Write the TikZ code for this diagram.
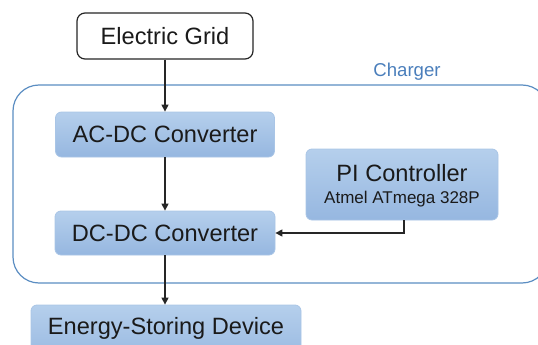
\documentclass[tikz,border=0pt]{standalone}
\usepackage{fontspec}
\setmainfont{Liberation Sans}
\usetikzlibrary{arrows.meta}
\definecolor{boxtop}{HTML}{B5CFEC}
\definecolor{boxbot}{HTML}{96B7E0}
\definecolor{boxline}{HTML}{A9C5E6}
\definecolor{chgline}{HTML}{5B8DC2}
\definecolor{chgtext}{HTML}{4A7EBB}
\definecolor{txt}{HTML}{1A1A1A}
\tikzset{
  bluebox/.style={draw=boxline, line width=0.8pt, rounded corners=6pt,
    top color=boxtop, bottom color=boxbot, text=txt, inner sep=0pt},
  conn/.style={draw=black!85, line width=1.4pt, -{Triangle[length=7pt,width=7pt]}},
}
\begin{document}
\begin{tikzpicture}[x=1pt,y=-1pt, font=\fontsize{23.6}{26}\selectfont]
\useasboundingbox (0,0) rectangle (538,345);
\clip (0,0) rectangle (538,345);
% charger container
\draw[chgline, line width=1.2pt, rounded corners=26pt] (13,85) rectangle (548,283);
\node[text=chgtext, font=\fontsize{18.6}{20}\selectfont] (chg) at (407,72) {Charger};
% nodes
\node[draw=black!85, line width=1.2pt, rounded corners=8pt, fill=white, text=txt,
  minimum width=176pt, minimum height=46pt, inner sep=0pt] (grid) at (165,36) {Electric Grid};
\node[bluebox, minimum width=219pt, minimum height=45pt] (acdc) at (165,134.5) {AC-DC Converter};
\node[bluebox, minimum width=220pt, minimum height=44pt] (dcdc) at (165,233) {DC-DC Converter};
\node[bluebox, minimum width=192pt, minimum height=71pt] (pi) at (402,184.5) {};
\node[text=txt] (pit) at (402,173.5) {PI Controller};
\node[text=txt, font=\fontsize{17}{19}\selectfont] (pis) at (402,199) {Atmel ATmega 328P};
\node[bluebox, minimum width=270pt, minimum height=60pt] (esd) at (166,335) {};
\node[text=txt] (esdt) at (166,328) {Energy-Storing Device};
% connectors
\draw[conn] (grid.south -| acdc.north) -- (acdc.north);
\draw[conn] (acdc.south) -- (dcdc.north);
\draw[conn] (dcdc.south) -- (dcdc.south |- esd.north);
\draw[conn] (pi.south -| 404,0) |- (dcdc.east);
\end{tikzpicture}
\end{document}
